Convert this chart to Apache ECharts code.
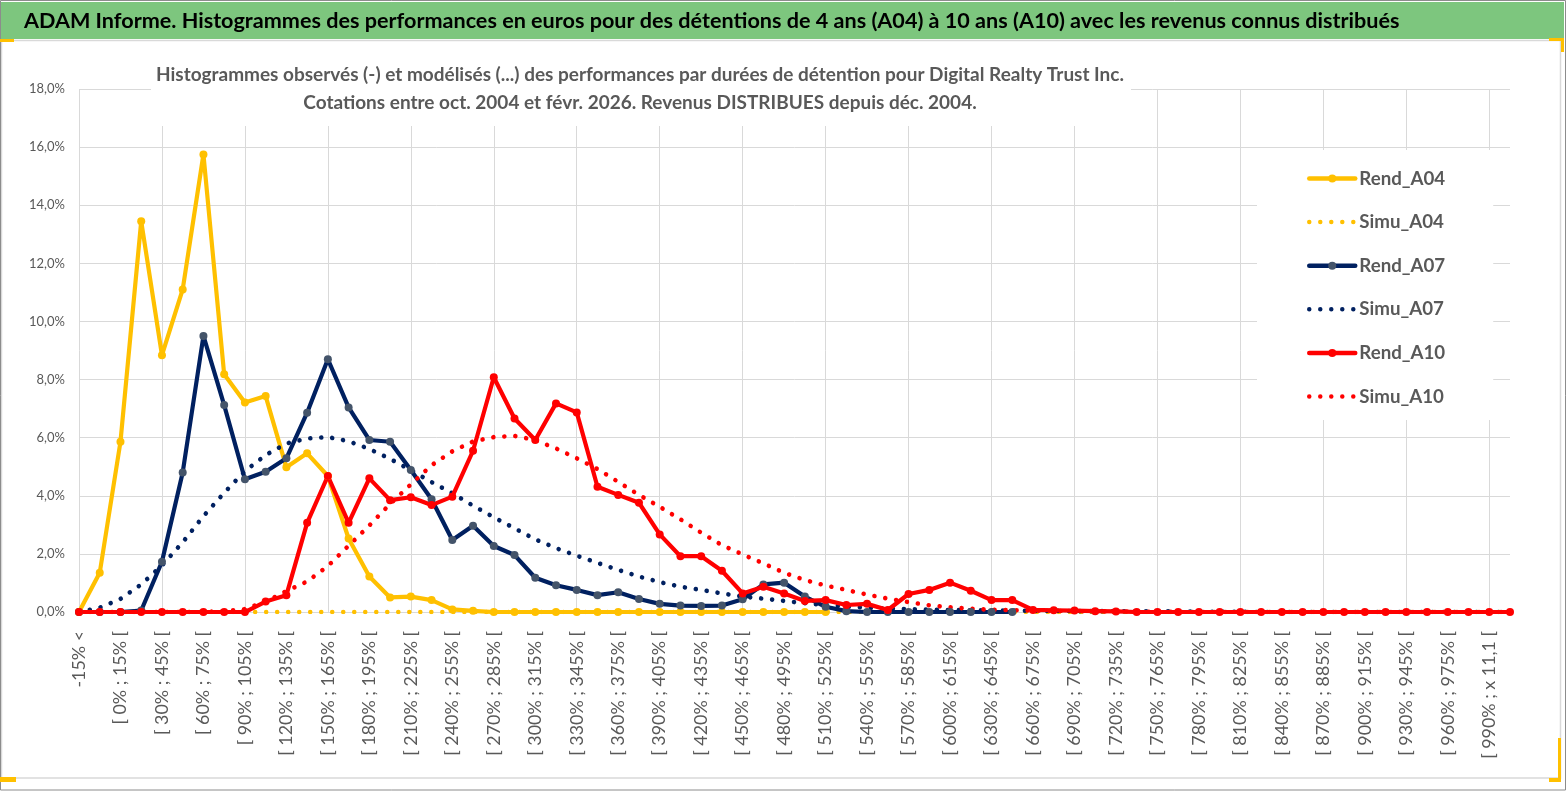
<!DOCTYPE html>
<html>
<head>
<meta charset="utf-8">
<script src="https://cdn.jsdelivr.net/npm/echarts@6/dist/echarts.min.js"></script>
<style>
html,body{margin:0;padding:0;background:#fff;}
#chart{width:1567px;height:791px;}
</style>
</head>
<body>
<div id="chart"></div>
<script>
// ---------- DATA ----------
const mainTitle = "ADAM Informe. Histogrammes des performances en euros pour des détentions de 4 ans (A04) à 10 ans (A10) avec les revenus connus distribués";
const subTitle1 = "Histogrammes observés (-) et modélisés (...) des performances par durées de détention pour Digital Realty Trust Inc.";
const subTitle2 = "Cotations entre oct. 2004 et févr. 2026. Revenus DISTRIBUES depuis déc. 2004.";

const categories = [
  "-15% <", "[ -15% ; 0% [", "[ 0% ; 15% [", "[ 15% ; 30% [", "[ 30% ; 45% [", "[ 45% ; 60% [",
  "[ 60% ; 75% [", "[ 75% ; 90% [", "[ 90% ; 105% [", "[ 105% ; 120% [", "[ 120% ; 135% [",
  "[ 135% ; 150% [", "[ 150% ; 165% [", "[ 165% ; 180% [", "[ 180% ; 195% [", "[ 195% ; 210% [",
  "[ 210% ; 225% [", "[ 225% ; 240% [", "[ 240% ; 255% [", "[ 255% ; 270% [", "[ 270% ; 285% [",
  "[ 285% ; 300% [", "[ 300% ; 315% [", "[ 315% ; 330% [", "[ 330% ; 345% [", "[ 345% ; 360% [",
  "[ 360% ; 375% [", "[ 375% ; 390% [", "[ 390% ; 405% [", "[ 405% ; 420% [", "[ 420% ; 435% [",
  "[ 435% ; 450% [", "[ 450% ; 465% [", "[ 465% ; 480% [", "[ 480% ; 495% [", "[ 495% ; 510% [",
  "[ 510% ; 525% [", "[ 525% ; 540% [", "[ 540% ; 555% [", "[ 555% ; 570% [", "[ 570% ; 585% [",
  "[ 585% ; 600% [", "[ 600% ; 615% [", "[ 615% ; 630% [", "[ 630% ; 645% [", "[ 645% ; 660% [",
  "[ 660% ; 675% [", "[ 675% ; 690% [", "[ 690% ; 705% [", "[ 705% ; 720% [", "[ 720% ; 735% [",
  "[ 735% ; 750% [", "[ 750% ; 765% [", "[ 765% ; 780% [", "[ 780% ; 795% [", "[ 795% ; 810% [",
  "[ 810% ; 825% [", "[ 825% ; 840% [", "[ 840% ; 855% [", "[ 855% ; 870% [", "[ 870% ; 885% [",
  "[ 885% ; 900% [", "[ 900% ; 915% [", "[ 915% ; 930% [", "[ 930% ; 945% [", "[ 945% ; 960% [",
  "[ 960% ; 975% [", "[ 975% ; 990% [", "[ 990% ; x 11,1 [", "x 11,1 <"
];

const seriesNames = ["Rend_A04", "Simu_A04", "Rend_A07", "Simu_A07", "Rend_A10", "Simu_A10"];

const rendA04 = [
  0, 1.35, 5.86, 13.45, 8.84, 11.1, 15.75, 8.18, 7.21, 7.43,
  4.98, 5.46, 4.68, 2.53, 1.22, 0.5, 0.53, 0.41, 0.09, 0.04,
  0, 0, 0, 0, 0, 0, 0, 0, 0, 0,
  0, 0, 0, 0, 0, 0, 0, null, null, null,
  null, null, null, null, null, null, null, null, null, null,
  null, null, null, null, null, null, null, null, null, null,
  null, null, null, null, null, null, null, null, null, null
];
const simuA04 = [
  0, 0, 0, 0, 0, 0, 0, 0, 0, 0,
  0, 0, 0, 0, 0, 0, 0, 0, 0, 0,
  0, 0, 0, 0, 0, 0, 0, 0, 0, 0,
  0, 0, 0, 0, 0, 0, 0, 0, 0, 0,
  0, 0, 0, 0, 0, 0, 0, 0, 0, 0,
  0, 0, 0, 0, 0, 0, 0, 0, 0, 0,
  0, 0, 0, 0, 0, 0, 0, 0, 0, 0
];
const rendA07 = [
  0, 0, 0, 0.05, 1.73, 4.8, 9.5, 7.12, 4.57, 4.83,
  5.29, 6.86, 8.7, 7.04, 5.92, 5.86, 4.89, 3.88, 2.48, 2.97,
  2.27, 1.96, 1.18, 0.92, 0.76, 0.58, 0.68, 0.45, 0.28, 0.22,
  0.21, 0.22, 0.44, 0.95, 1.01, 0.53, 0.18, 0.03, 0, 0,
  0, 0, 0, 0, 0, 0, null, null, null, null,
  null, null, null, null, null, null, null, null, null, null,
  null, null, null, null, null, null, null, null, null, null
];
const simuA07 = [
  0, 0.15, 0.45, 0.95, 1.6, 2.4, 3.3, 4.1, 4.85, 5.4,
  5.8, 5.97, 6.02, 5.88, 5.61, 5.27, 4.88, 4.47, 4.09, 3.66,
  3.26, 2.88, 2.5, 2.2, 1.94, 1.69, 1.45, 1.22, 1.03, 0.87,
  0.76, 0.64, 0.53, 0.46, 0.38, 0.3, 0.24, 0.19, 0.15, 0.12,
  0.1, 0.08, 0.07, 0.06, 0.05, 0.05, 0.04, 0.04, 0.03, 0.03,
  0.03, 0.02, 0.02, 0.02, 0.01, 0.01, 0.01, 0, 0, 0,
  0, 0, 0, 0, 0, 0, 0, 0, 0, 0
];
const rendA10 = [
  0, 0, 0, 0, 0, 0, 0, 0, 0, 0.36,
  0.58, 3.07, 4.68, 3.07, 4.6, 3.85, 3.95, 3.68, 3.97, 5.55,
  8.08, 6.66, 5.92, 7.18, 6.87, 4.31, 4.03, 3.76, 2.67, 1.92,
  1.92, 1.42, 0.64, 0.87, 0.64, 0.38, 0.41, 0.24, 0.28, 0.07,
  0.62, 0.76, 1.01, 0.73, 0.41, 0.41, 0.07, 0.06, 0.05, 0.03,
  0.02, 0, 0, 0, 0, 0, 0, 0, 0, 0,
  0, 0, 0, 0, 0, 0, 0, 0, 0, 0
];
const simuA10 = [
  0, 0, 0, 0, 0, 0, 0, 0.03, 0.1, 0.35,
  0.72, 1.05, 1.58, 2.28, 2.98, 3.72, 4.39, 5.05, 5.53, 5.87,
  6.02, 6.06, 5.92, 5.63, 5.29, 4.92, 4.48, 4.03, 3.62, 3.19,
  2.73, 2.3, 1.98, 1.67, 1.35, 1.1, 0.91, 0.76, 0.6, 0.46,
  0.34, 0.23, 0.16, 0.11, 0.08, 0.06, 0.05, 0.04, 0.03, 0.02,
  0.02, 0.01, 0.01, 0, 0, 0, 0, 0, 0, 0,
  0, 0, 0, 0, 0, 0, 0, 0, 0, 0
];

const yTicks = { min: 0, max: 18, interval: 2 };

// ---------- STYLE ----------
const FONT = 'Lato';
const measureCtx = document.createElement('canvas').getContext('2d');
function fitSize(text, weight, targetWidth) {
  measureCtx.font = weight + ' 100px ' + FONT;
  return 100 * targetWidth / measureCtx.measureText(text).width;
}
const mainTitleSize = fitSize(mainTitle, 'bold', 1376);
const subTitleSize = fitSize(subTitle1, 'bold', 968);
const legendSize = fitSize('Rend_A04', 'bold', 86);
const xLabelSize = fitSize('[ 990% ; x 11,1 [', 'normal', 128);
const yLabelSize = fitSize('18,0%', 'normal', 36);

const YELLOW = '#FFC000', NAVY = '#002060', NAVY_MK = '#44546A', RED = '#FF0000';
const GRID = '#d9d9d9', TXT = '#595959';
const dotted = { type: [0.01, 11], cap: 'round', width: 4.6 };

function rend(name, data, lineColor, markColor) {
  return {
    name, type: 'line', data,
    symbol: 'circle', symbolSize: 8, showSymbol: true,
    lineStyle: { color: lineColor, width: 4.2, cap: 'round', join: 'round' },
    itemStyle: { color: markColor },
    connectNulls: false,
    emphasis: { disabled: true }
  };
}
function simu(name, data, color) {
  return {
    name, type: 'line', data,
    symbol: 'none',
    lineStyle: Object.assign({ color }, dotted),
    itemStyle: { color },
    emphasis: { disabled: true }
  };
}

const legendItems = seriesNames.map(function (n) {
  return n.indexOf('Simu') === 0 ? { name: n, itemStyle: { opacity: 0 } } : { name: n };
});

const chart = echarts.init(document.getElementById('chart'), null, { renderer: 'canvas' });
chart.setOption({
  animation: false,
  backgroundColor: '#ffffff',
  grid: { left: 79, right: 57, top: 89, bottom: 179, containLabel: false },
  xAxis: {
    type: 'category',
    data: categories,
    boundaryGap: false,
    axisLine: { show: true, lineStyle: { color: GRID, width: 1 } },
    axisTick: { show: false },
    axisLabel: {
      interval: 1, rotate: 90, margin: 19,
      color: TXT, fontFamily: FONT, fontSize: xLabelSize
    },
    splitLine: {
      show: true,
      interval: function (index) { return index % 4 === 0; },
      lineStyle: { color: GRID, width: 1 }
    }
  },
  yAxis: {
    type: 'value',
    min: yTicks.min, max: yTicks.max, interval: yTicks.interval,
    axisLine: { show: false },
    axisTick: { show: false },
    axisLabel: {
      margin: 14, color: TXT, fontFamily: FONT, fontSize: yLabelSize,
      formatter: function (v) { return v.toFixed(1).replace('.', ',') + '%'; }
    },
    splitLine: { show: true, lineStyle: { color: GRID, width: 1 } }
  },
  legend: {
    orient: 'vertical',
    left: 1257, top: 150,
    padding: [19, 48, 14, 50],
    backgroundColor: '#ffffff',
    itemWidth: 46, itemHeight: 10, itemGap: 24.6,
    lineStyle: { width: 4.5 },
    textStyle: { color: TXT, fontFamily: FONT, fontWeight: 'bold', fontSize: legendSize, padding: [0, 0, 0, -1] },
    data: legendItems,
    selectedMode: false
  },
  series: [
    rend(seriesNames[0], rendA04, YELLOW, YELLOW),
    simu(seriesNames[1], simuA04, YELLOW),
    rend(seriesNames[2], rendA07, NAVY, NAVY_MK),
    simu(seriesNames[3], simuA07, NAVY),
    rend(seriesNames[4], rendA10, RED, RED),
    simu(seriesNames[5], simuA10, RED)
  ],
  graphic: [
    { type: 'rect', z: 1, silent: true, shape: { x: 1.5, y: 40.5, width: 1559, height: 737.5 }, style: { fill: null, stroke: '#d9d9d9', lineWidth: 1.5 } },
    { type: 'rect', z: 1, silent: true, shape: { x: 0.5, y: 0.5, width: 1565, height: 789.5 }, style: { fill: null, stroke: '#8c8c8c', lineWidth: 1 } },
    { type: 'rect', z: 10, silent: true, shape: { x: 1, y: 2, width: 1563, height: 37 }, style: { fill: '#7dc67e' } },
    { type: 'text', z: 11, silent: true, x: 24, y: 21,
      style: { text: mainTitle, fill: '#000000', font: 'bold ' + mainTitleSize.toFixed(2) + 'px ' + FONT, align: 'left', verticalAlign: 'middle' } },
    { type: 'rect', z: 10, silent: true, shape: { x: 151, y: 55, width: 980, height: 71 }, style: { fill: '#ffffff' } },
    { type: 'text', z: 11, silent: true, x: 640, y: 75,
      style: { text: subTitle1, fill: TXT, font: 'bold ' + subTitleSize.toFixed(2) + 'px ' + FONT, align: 'center', verticalAlign: 'middle' } },
    { type: 'text', z: 11, silent: true, x: 640, y: 103,
      style: { text: subTitle2, fill: TXT, font: 'bold ' + subTitleSize.toFixed(2) + 'px ' + FONT, align: 'center', verticalAlign: 'middle' } },
    { type: 'rect', z: 12, silent: true, shape: { x: 0, y: 39, width: 14, height: 3 }, style: { fill: '#FFC000' } },
    { type: 'rect', z: 12, silent: true, shape: { x: 1549, y: 38, width: 14, height: 3 }, style: { fill: '#FFC000' } },
    { type: 'rect', z: 12, silent: true, shape: { x: 1561, y: 38, width: 3, height: 14 }, style: { fill: '#FFC000' } },
    { type: 'rect', z: 12, silent: true, shape: { x: 1558, y: 738, width: 3, height: 44 }, style: { fill: '#FFC000' } },
    { type: 'rect', z: 12, silent: true, shape: { x: 1549, y: 778, width: 12, height: 4 }, style: { fill: '#FFC000' } },
    { type: 'rect', z: 12, silent: true, shape: { x: 0, y: 777, width: 16, height: 5 }, style: { fill: '#FFC000' } }
  ]
});
</script>
</body>
</html>
